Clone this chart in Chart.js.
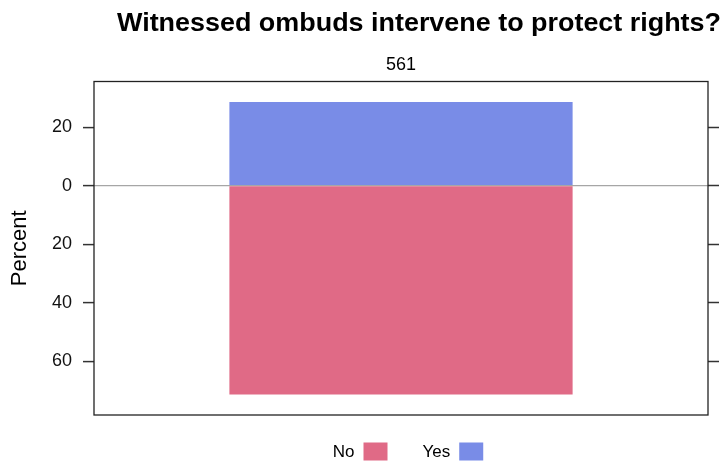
<!DOCTYPE html>
<html>
<head>
<meta charset="utf-8">
<script src="https://cdn.jsdelivr.net/npm/chart.js@4.4.0/dist/chart.umd.min.js"></script>
<style>
  html, body { margin: 0; padding: 0; background: #fff; }
  #wrap { width: 723px; height: 463px; position: relative; }
</style>
</head>
<body>
<div id="wrap"><canvas id="likertChart" width="723" height="463"></canvas></div>
<script>
// data
const chartTitle = 'Witnessed ombuds intervene to protect rights?';
const categories = ['561'];
const noValues = [71.4];
const yesValues = [28.6];
const yTicks = [-60, -40, -20, 0, 20];

const noColor = '#E06A86';
const yesColor = '#798CE7';
const FONT = 'Liberation Sans, Arial, sans-serif';

const frameAndLegend = {
    id: 'frameAndLegend',
    afterDraw(chart) {
        const { ctx, chartArea: a } = chart;
        ctx.save();
        // panel box
        ctx.strokeStyle = '#222';
        ctx.lineWidth = 1.3;
        ctx.strokeRect(a.left, a.top, a.right - a.left, a.bottom - a.top);

        // title, a little wider than the plain font like the reference
        ctx.fillStyle = '#000';
        ctx.font = 'bold 25px ' + FONT;
        ctx.textAlign = 'left';
        ctx.textBaseline = 'alphabetic';
        const tw = ctx.measureText(chartTitle).width;
        ctx.save();
        ctx.translate(117, 31);
        ctx.scale(604 / tw, 1);
        ctx.fillText(chartTitle, 0, 0);
        ctx.restore();

        // legend: text then swatch
        const items = [
            { label: 'No', color: noColor },
            { label: 'Yes', color: yesColor },
        ];
        ctx.font = '17px ' + FONT;
        const box = 24, gapTxt = 9, gapItem = 35;
        let total = 0;
        items.forEach((it, i) => {
            it.w = ctx.measureText(it.label).width;
            total += it.w + gapTxt + box + (i ? gapItem : 0);
        });
        let x = 408 - total / 2;
        const yMid = 451.5;
        items.forEach((it) => {
            ctx.fillStyle = '#000';
            ctx.textBaseline = 'middle';
            ctx.fillText(it.label, x, yMid + 1);
            x += it.w + gapTxt;
            ctx.fillStyle = it.color;
            ctx.fillRect(x, yMid - 9, box, 18);
            x += box + gapItem;
        });
        ctx.restore();
    }
};

const ctx = document.getElementById('likertChart').getContext('2d');
new Chart(ctx, {
    type: 'bar',
    data: {
        labels: categories,
        datasets: [
            {
                label: 'No',
                data: noValues.map(v => -v),
                backgroundColor: noColor,
                borderWidth: 0,
                categoryPercentage: 1,
                barPercentage: 0.559,
            },
            {
                label: 'Yes',
                data: yesValues,
                backgroundColor: yesColor,
                borderWidth: 0,
                categoryPercentage: 1,
                barPercentage: 0.559,
            },
        ],
    },
    options: {
        responsive: false,
        animation: false,
        layout: { padding: { top: 51.5, bottom: 48, left: 0, right: 0 } },
        plugins: {
            legend: { display: false },
            title: { display: false },
            tooltip: { enabled: false },
        },
        scales: {
            x: {
                position: 'top',
                stacked: true,
                grid: { display: false, drawTicks: false },
                border: { display: false },
                ticks: { color: '#000', font: { family: FONT, size: 18 }, padding: 6 },
                afterFit(scale) { scale.height = 30; },
            },
            y: {
                position: 'left',
                stacked: true,
                min: -78.4,
                max: 35.6,
                afterBuildTicks(scale) { scale.ticks = yTicks.map(v => ({ value: v })); },
                ticks: {
                    color: '#111',
                    font: { family: FONT, size: 18 },
                    padding: 11,
                    callback: (v) => String(Math.abs(v)),
                },
                grid: {
                    color: (c) => (c.tick && c.tick.value === 0 ? '#a6a6a6' : 'rgba(0,0,0,0)'),
                    lineWidth: 1.2,
                    tickColor: '#333',
                    tickLength: 11,
                    tickWidth: 1.5,
                },
                border: { display: false },
                title: {
                    display: true,
                    text: 'Percent',
                    color: '#000',
                    font: { family: FONT, size: 22 },
                    padding: { top: 7, bottom: 0 },
                },
                afterFit(scale) { scale.width = 94; },
            },
            y2: {
                position: 'right',
                min: -78.4,
                max: 35.6,
                afterBuildTicks(scale) { scale.ticks = yTicks.map(v => ({ value: v })); },
                ticks: { display: false },
                grid: {
                    drawOnChartArea: false,
                    tickColor: '#333',
                    tickLength: 11,
                    tickWidth: 1.5,
                },
                border: { display: false },
                afterFit(scale) { scale.width = 15; },
            },
        },
    },
    plugins: [frameAndLegend],
});
</script>
</body>
</html>
